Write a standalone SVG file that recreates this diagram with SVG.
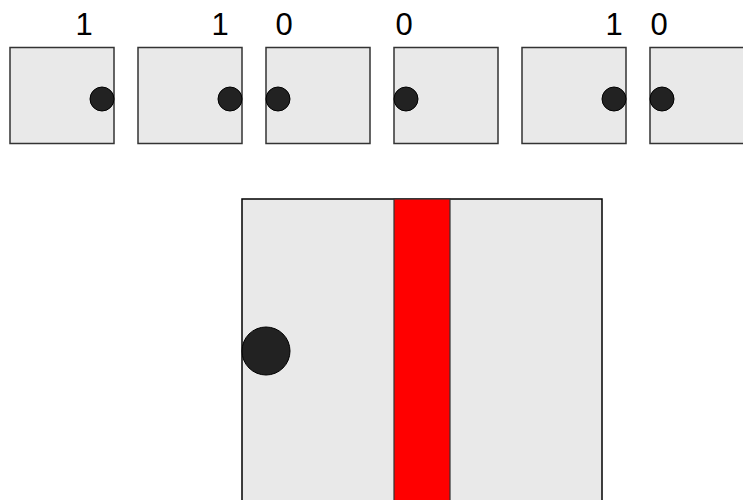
<svg xmlns="http://www.w3.org/2000/svg" width="743" height="500" viewBox="0 0 743 500">
<style>
.box{fill:#e9e9e9;stroke:#333;stroke-width:1.5}
.dot{fill:#222;stroke:#000;stroke-width:1}
.lbl{font-family:"Liberation Sans",Arial,sans-serif;font-size:31px;fill:#000;text-anchor:middle}
</style>
<rect width="743" height="500" fill="#fff"/>
<g id="cell1"><rect class="box" x="10" y="47.5" width="104" height="96"/><circle class="dot" cx="102" cy="99" r="12"/><text class="lbl" x="84" y="35">1</text></g>
<g id="cell2"><rect class="box" x="138" y="47.5" width="104" height="96"/><circle class="dot" cx="230" cy="99" r="12"/><text class="lbl" x="220" y="35">1</text></g>
<g id="cell3"><rect class="box" x="266" y="47.5" width="104" height="96"/><circle class="dot" cx="278" cy="99" r="12"/><text class="lbl" x="284" y="35">0</text></g>
<g id="cell4"><rect class="box" x="394" y="47.5" width="104" height="96"/><circle class="dot" cx="406" cy="99" r="12"/><text class="lbl" x="404" y="35">0</text></g>
<g id="cell5"><rect class="box" x="522" y="47.5" width="104" height="96"/><circle class="dot" cx="614" cy="99" r="12"/><text class="lbl" x="614" y="35">1</text></g>
<g id="cell6"><rect class="box" x="650" y="47.5" width="104" height="96"/><circle class="dot" cx="662" cy="99" r="12"/><text class="lbl" x="659" y="35">0</text></g>
<g id="big">
<rect x="242" y="199" width="360" height="320" fill="#e9e9e9" stroke="#000" stroke-width="1.5"/>
<rect x="394" y="199" width="56" height="320" fill="#ff0000" stroke="#333" stroke-width="1.2"/>
<circle class="dot" cx="266" cy="351" r="24"/>
</g>
<g id="connectors"></g>
</svg>
